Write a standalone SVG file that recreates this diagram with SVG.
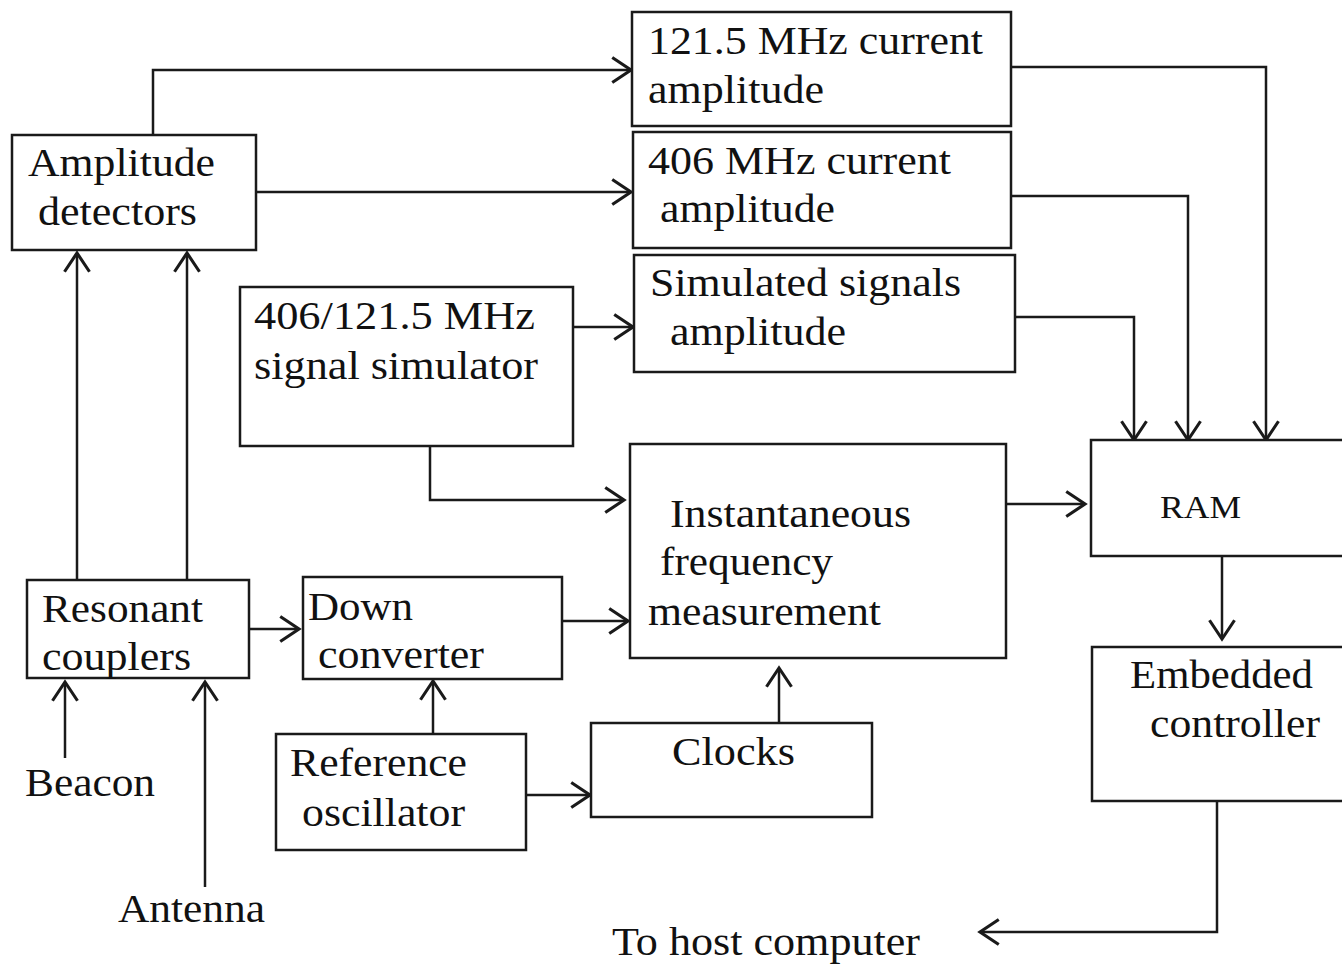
<svg xmlns="http://www.w3.org/2000/svg" width="1342" height="964" viewBox="0 0 1342 964">
<style>
.b{fill:#fff;stroke:#1a1a1a;stroke-width:2.5}
.c{fill:none;stroke:#1a1a1a;stroke-width:2.5}
text{font-family:"Liberation Serif","Times New Roman",serif;font-size:40px;fill:#111}
</style>
<defs>
<marker id="a" markerUnits="userSpaceOnUse" markerWidth="30" markerHeight="30" viewBox="-16 -12 20 24" refX="0" refY="0" orient="auto">
<path d="M-15,-10 L0,0 L-15,10" fill="none" stroke="#1a1a1a" stroke-width="2.5"/>
</marker>
</defs>
<rect width="1342" height="964" fill="#fff"/>
<g id="connectors" class="c">
<path class="c" d="M153,135 V70 H631" marker-end="url(#a)"/>
<path class="c" d="M256,192 H631" marker-end="url(#a)"/>
<path class="c" d="M573,327 H633" marker-end="url(#a)"/>
<path class="c" d="M430,446 V500 H624" marker-end="url(#a)"/>
<path class="c" d="M77,580 V253" marker-end="url(#a)"/>
<path class="c" d="M187,580 V253" marker-end="url(#a)"/>
<path class="c" d="M249,629 H299" marker-end="url(#a)"/>
<path class="c" d="M562,621 H628" marker-end="url(#a)"/>
<path class="c" d="M65,758 V682" marker-end="url(#a)"/>
<path class="c" d="M205,887 V682" marker-end="url(#a)"/>
<path class="c" d="M433,734 V681" marker-end="url(#a)"/>
<path class="c" d="M526,795 H590" marker-end="url(#a)"/>
<path class="c" d="M779,723 V668" marker-end="url(#a)"/>
<path class="c" d="M1006,504 H1085" marker-end="url(#a)"/>
<path class="c" d="M1011,67 H1266 V440" marker-end="url(#a)"/>
<path class="c" d="M1011,196 H1188 V440" marker-end="url(#a)"/>
<path class="c" d="M1015,317 H1134 V440" marker-end="url(#a)"/>
<path class="c" d="M1222,556 V639" marker-end="url(#a)"/>
<path class="c" d="M1217,801 V932 H980" marker-end="url(#a)"/>
</g>
<g id="amp-det"><rect class="b" x="12" y="135" width="244" height="115"/>
<text x="28" y="176" textLength="187" lengthAdjust="spacingAndGlyphs">Amplitude</text>
<text x="38" y="225" textLength="159" lengthAdjust="spacingAndGlyphs">detectors</text></g>
<g id="amp121"><rect class="b" x="632" y="12" width="379" height="114"/>
<text x="648" y="54" textLength="335" lengthAdjust="spacingAndGlyphs">121.5 MHz current</text>
<text x="648" y="103" textLength="176" lengthAdjust="spacingAndGlyphs">amplitude</text></g>
<g id="amp406"><rect class="b" x="633" y="132" width="378" height="116"/>
<text x="648" y="174" textLength="303" lengthAdjust="spacingAndGlyphs">406 MHz current</text>
<text x="660" y="222" textLength="175" lengthAdjust="spacingAndGlyphs">amplitude</text></g>
<g id="ampsim"><rect class="b" x="634" y="255" width="381" height="117"/>
<text x="650" y="296" textLength="311" lengthAdjust="spacingAndGlyphs">Simulated signals</text>
<text x="670" y="345" textLength="176" lengthAdjust="spacingAndGlyphs">amplitude</text></g>
<g id="simulator"><rect class="b" x="240" y="287" width="333" height="159"/>
<text x="254" y="329" textLength="281" lengthAdjust="spacingAndGlyphs">406/121.5 MHz</text>
<text x="254" y="379" textLength="284" lengthAdjust="spacingAndGlyphs">signal simulator</text></g>
<g id="ifm"><rect class="b" x="630" y="444" width="376" height="214"/>
<text x="670" y="527" textLength="241" lengthAdjust="spacingAndGlyphs">Instantaneous</text>
<text x="660" y="575" textLength="173" lengthAdjust="spacingAndGlyphs">frequency</text>
<text x="648" y="625" textLength="233" lengthAdjust="spacingAndGlyphs">measurement</text></g>
<g id="ram"><rect class="b" x="1091" y="440" width="260" height="116"/>
<text x="1160" y="518" style="font-size:32px" textLength="81" lengthAdjust="spacingAndGlyphs">RAM</text></g>
<g id="embedded"><rect class="b" x="1092" y="647" width="260" height="154"/>
<text x="1130" y="688" textLength="183" lengthAdjust="spacingAndGlyphs">Embedded</text>
<text x="1150" y="737" textLength="170" lengthAdjust="spacingAndGlyphs">controller</text></g>
<g id="resonant"><rect class="b" x="27" y="580" width="222" height="98"/>
<text x="42" y="622" textLength="161" lengthAdjust="spacingAndGlyphs">Resonant</text>
<text x="42" y="670" textLength="149" lengthAdjust="spacingAndGlyphs">couplers</text></g>
<g id="downconv"><rect class="b" x="303" y="577" width="259" height="102"/>
<text x="308" y="620" textLength="105" lengthAdjust="spacingAndGlyphs">Down</text>
<text x="318" y="668" textLength="166" lengthAdjust="spacingAndGlyphs">converter</text></g>
<g id="refosc"><rect class="b" x="276" y="734" width="250" height="116"/>
<text x="290" y="776" textLength="177" lengthAdjust="spacingAndGlyphs">Reference</text>
<text x="302" y="826" textLength="163" lengthAdjust="spacingAndGlyphs">oscillator</text></g>
<g id="clocks"><rect class="b" x="591" y="723" width="281" height="94"/>
<text x="672" y="765" textLength="123" lengthAdjust="spacingAndGlyphs">Clocks</text></g>
<g id="beacon"><text x="25" y="796" textLength="130" lengthAdjust="spacingAndGlyphs">Beacon</text></g>
<g id="antenna"><text x="118" y="922" textLength="147" lengthAdjust="spacingAndGlyphs">Antenna</text></g>
<g id="host"><text x="612" y="955" textLength="308" lengthAdjust="spacingAndGlyphs">To host computer</text></g>
</svg>
